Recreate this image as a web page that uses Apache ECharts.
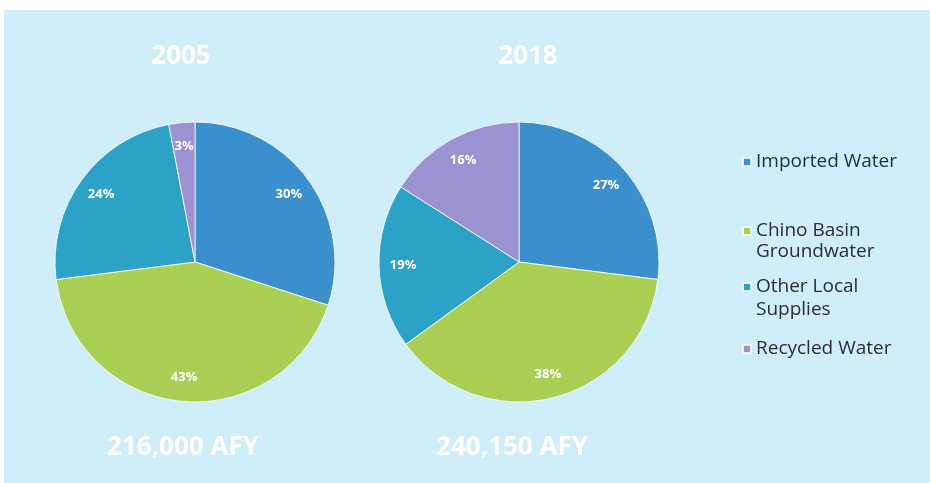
<!DOCTYPE html>
<html><head><meta charset="utf-8">
<script src="https://cdn.jsdelivr.net/npm/echarts@6/dist/echarts.min.js"></script>
<style>html,body{margin:0;padding:0;background:#fff}#c{width:930px;height:483px}</style>
</head><body><div id="c"></div>
<script>
const categories = ['Imported Water', 'Chino Basin Groundwater', 'Other Local Supplies', 'Recycled Water'];
const legendFirstLines = ['Imported Water', 'Chino Basin', 'Other Local', 'Recycled Water'];
const legendSecondLines = ['', 'Groundwater', 'Supplies', ''];
const values2005 = [30, 43, 24, 3];
const values2018 = [27, 38, 19, 16];
const years = ['2005', '2018'];
const totals = ['216,000 AFY', '240,150 AFY'];
const colors = ['#3b8fcd', '#a9cf55', '#2ba2c6', '#9b92d1'];

const font = '"Open Sans", Lato, sans-serif';
const centers = [[195, 262], [519, 262]];
const allValues = [values2005, values2018];

const series = [];
allValues.forEach((vals, i) => {
  const data = categories.map((n, k) => ({ name: n, value: vals[k], itemStyle: { color: colors[k] } }));
  series.push({
    type: 'pie', center: centers[i], radius: 140, startAngle: 90, clockwise: true,
    data: data, label: { show: false }, labelLine: { show: false },
    itemStyle: { borderColor: 'rgba(255,255,255,0.8)', borderWidth: 1 },
    emphasis: { disabled: true }, animation: false
  });
  series.push({
    type: 'pie', center: centers[i], radius: [86, 140], startAngle: 90, clockwise: true,
    silent: true, legendHoverLink: false,
    data: categories.map((n, k) => ({ name: n, value: vals[k], itemStyle: { color: 'transparent' } })),
    label: { show: true, position: 'inside', formatter: '{c}%', color: '#fff', fontWeight: 'bold', fontSize: 13, fontFamily: font },
    labelLine: { show: false }, emphasis: { disabled: true }, animation: false
  });
});

const legendCenters = [160, 229, 285, 347];
const legendTextColor = k => (k === 0 ? '#14304f' : '#2c2c34');
const legends = categories.map((n, k) => ({
  data: [{ name: n, itemStyle: { color: colors[k] } }],
  left: 737, top: legendCenters[k] - 15, orient: 'vertical',
  icon: 'rect', itemWidth: 8, itemHeight: 8, itemGap: 5,
  selectedMode: false,
  formatter: () => legendFirstLines[k],
  textStyle: { fontFamily: font, fontSize: 19, color: legendTextColor(k), lineHeight: 24 }
}));

const titles = [];
years.forEach((y, i) => {
  titles.push({ text: y, left: [181, 528][i], top: 44, textAlign: 'center', padding: 0,
    textStyle: { color: '#fff', fontSize: 26, fontWeight: 'bold', fontFamily: font } });
  titles.push({ text: totals[i], left: [183, 512][i], top: 435, textAlign: 'center', padding: 0,
    textStyle: { color: '#fff', fontSize: 26, fontWeight: 'bold', fontFamily: font } });
});
const secondLineCenters = [0, 252, 310, 0];
legendSecondLines.forEach((t, k) => {
  if (!t) return;
  titles.push({ text: t, left: 756, top: secondLineCenters[k] - 12, padding: 0,
    textStyle: { fontFamily: font, fontSize: 19, fontWeight: 'normal', color: legendTextColor(k), lineHeight: 24 } });
});

const chart = echarts.init(document.getElementById('c'), null, { renderer: 'canvas' });
chart.setOption({
  animation: false,
  graphic: [{ type: 'rect', z: -10, shape: { x: 4, y: 10, width: 926, height: 473 }, style: { fill: '#cfeefa' } }],
  title: titles,
  legend: legends,
  series: series
});
</script></body></html>
